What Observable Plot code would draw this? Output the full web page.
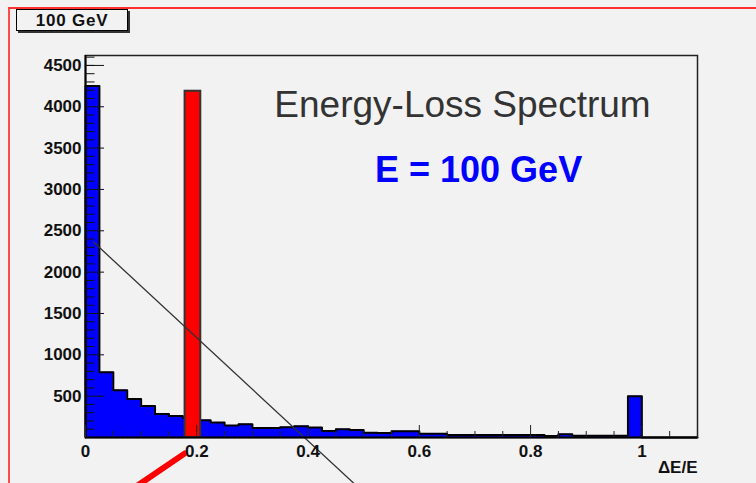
<!DOCTYPE html>
<html><head><meta charset="utf-8">
<script src="https://cdn.jsdelivr.net/npm/d3@7"></script>
<script src="https://cdn.jsdelivr.net/npm/@observablehq/plot@0.6"></script>
<style>
html,body{margin:0;padding:0;background:#f2f2f2;overflow:hidden}
#wrap{position:relative;width:756px;height:483px;overflow:hidden;font-family:"Liberation Sans",Arial,Helvetica,sans-serif}
#border{position:absolute;left:8px;top:7px;width:800px;height:600px;border-top:2px solid #ff3030;border-left:2px solid #ff4a4a;}
#chart{position:absolute;left:0;top:0}
#tag{position:absolute;left:16px;top:9px;width:110px;height:20px;border:1px solid #000;box-shadow:2px 2px 0 #333;background:#f2f2f2;font-weight:bold;font-size:17px;letter-spacing:0.8px;text-align:center;line-height:21px;color:#111}
</style></head>
<body><div id="wrap"><div id="border"></div><div id="chart"></div><div id="tag"></div></div>
<script>
// ---- data ----
const tagLabel = "100 GeV";
const titleText = "Energy-Loss Spectrum";
const subtitleText = "E = 100 GeV";
const xAxisLabel = "ΔE/E";
const binWidth = 0.025;
const binStarts = [0, 0.025, 0.05, 0.075, 0.1, 0.125, 0.15, 0.175, 0.2, 0.225, 0.25, 0.275, 0.3, 0.325, 0.35, 0.375, 0.4, 0.425, 0.45, 0.475,
  0.5, 0.525, 0.55, 0.575, 0.6, 0.625, 0.65, 0.675, 0.7, 0.725, 0.75, 0.775, 0.8, 0.825, 0.85, 0.875, 0.9, 0.925, 0.95, 0.975,
  1.0, 1.025, 1.05, 1.075];
const counts = [4250, 790, 570, 465, 380, 285, 260, 240, 210, 180, 145, 160, 115, 115, 125, 135, 120, 80, 100, 90,
  58, 55, 75, 75, 45, 45, 30, 30, 30, 30, 30, 30, 30, 18, 40, 22, 22, 22, 22, 500,
  0, 0, 0, 0];
const xMajorTicks = [0, 0.2, 0.4, 0.6, 0.8, 1];
const xTickLabels = ["0", "0.2", "0.4", "0.6", "0.8", "1"];
const xMinorTicks = [0.05, 0.1, 0.15, 0.25, 0.3, 0.35, 0.45, 0.5, 0.55, 0.65, 0.7, 0.75, 0.85, 0.9, 0.95, 1.05];
const yMajorTicks = [500, 1000, 1500, 2000, 2500, 3000, 3500, 4000, 4500];
const yTickLabels = ["500", "1000", "1500", "2000", "2500", "3000", "3500", "4000", "4500"];
const yMinorTicks = [100, 200, 300, 400, 600, 700, 800, 900, 1100, 1200, 1300, 1400, 1600, 1700, 1800, 1900,
  2100, 2200, 2300, 2400, 2600, 2700, 2800, 2900, 3100, 3200, 3300, 3400, 3600, 3700, 3800, 3900, 4100, 4200, 4300, 4400, 4500, 4600];
const xDomain = [0, 1.1];
const yDomain = [0, 4620];
// highlighted (red) bin marker
const redBarX = [0.179, 0.2072];
const redBarY = [0, 4188];
// annotation lines
const diagLineX = [0.0144, 0.4953];
const diagLineY = [2364, -635];
const pointerX = [0.1785, 0.0683];
const pointerY = [-192, -696];
// text annotations (data coords)
const titlePos = [0.6776, 4018];
const subtitlePos = [0.7065, 3231];

// ---- build tables ----
const outline = [{x: binStarts[0], y: 0}, ...binStarts.map((x, i) => ({x, y: counts[i]})), {x: binStarts[binStarts.length - 1] + binWidth, y: 0}];
const diag = diagLineX.map((x, i) => ({x, y: diagLineY[i]}));
const pointer = pointerX.map((x, i) => ({x, y: pointerY[i]}));
const redBar = [{x1: redBarX[0], x2: redBarX[1], y1: redBarY[0], y2: redBarY[1]}];

document.getElementById("tag").textContent = tagLabel;

const font = {fontWeight: "bold", fontSize: 17, letterSpacing: 0.5};
const chart = Plot.plot({
  width: 756, height: 483,
  marginLeft: 85, marginRight: 59, marginTop: 55, marginBottom: 46,
  style: {background: "transparent", fontFamily: "'Liberation Sans', Arial, Helvetica, sans-serif", color: "#111", overflow: "hidden"},
  x: {domain: xDomain, label: null},
  y: {domain: yDomain, label: null},
  marks: [
    Plot.areaY(outline, {x: "x", y: "y", curve: "step-after", fill: "#0000ff"}),
    Plot.line(outline, {x: "x", y: "y", curve: "step-after", stroke: "#000", strokeWidth: 2}),
    Plot.rect(redBar, {x1: "x1", x2: "x2", y1: "y1", y2: "y2", fill: "#ff0000", stroke: "#333", strokeWidth: 2}),
    Plot.line(diag, {x: "x", y: "y", stroke: "#333", strokeWidth: 1.3}),
    Plot.line(pointer, {x: "x", y: "y", stroke: "#ff0000", strokeWidth: 6, strokeLinecap: "round"}),
    Plot.frame({stroke: "#222", strokeWidth: 1.5}),
    Plot.ruleX([0], {stroke: "#000", strokeWidth: 2}),
    Plot.ruleY([0], {stroke: "#000", strokeWidth: 2}),
    Plot.axisY(yMajorTicks, {tickSize: -19, fill: "none", stroke: "#111", label: null}),
    Plot.axisY(yMinorTicks, {tickSize: -9.5, fill: "none", stroke: "#111", label: null}),
    Plot.axisY(yMajorTicks, {tickSize: 0, tickPadding: 4, tickFormat: (d, i) => yTickLabels[i], ...font, label: null}),
    Plot.axisX(xMajorTicks, {tickSize: -12, fill: "none", stroke: "#222", label: null}),
    Plot.axisX(xMinorTicks, {tickSize: -6, fill: "none", stroke: "#222", label: null}),
    Plot.axisX(xMajorTicks, {tickSize: 0, tickPadding: 7, tickFormat: (d, i) => xTickLabels[i], ...font, label: null}),
    Plot.text([xAxisLabel], {frameAnchor: "bottom-right", dy: 30, textAnchor: "end", lineAnchor: "middle", ...font, fill: "#111"}),
    Plot.text([titleText], {x: titlePos[0], y: titlePos[1], textAnchor: "middle", lineAnchor: "middle", fontSize: 37, fill: "#333"}),
    Plot.text([subtitleText], {x: subtitlePos[0], y: subtitlePos[1], textAnchor: "middle", lineAnchor: "middle", fontSize: 36, fontWeight: "bold", fill: "#0000ff"})
  ]
});
document.getElementById("chart").appendChild(chart);
</script>
</body></html>
